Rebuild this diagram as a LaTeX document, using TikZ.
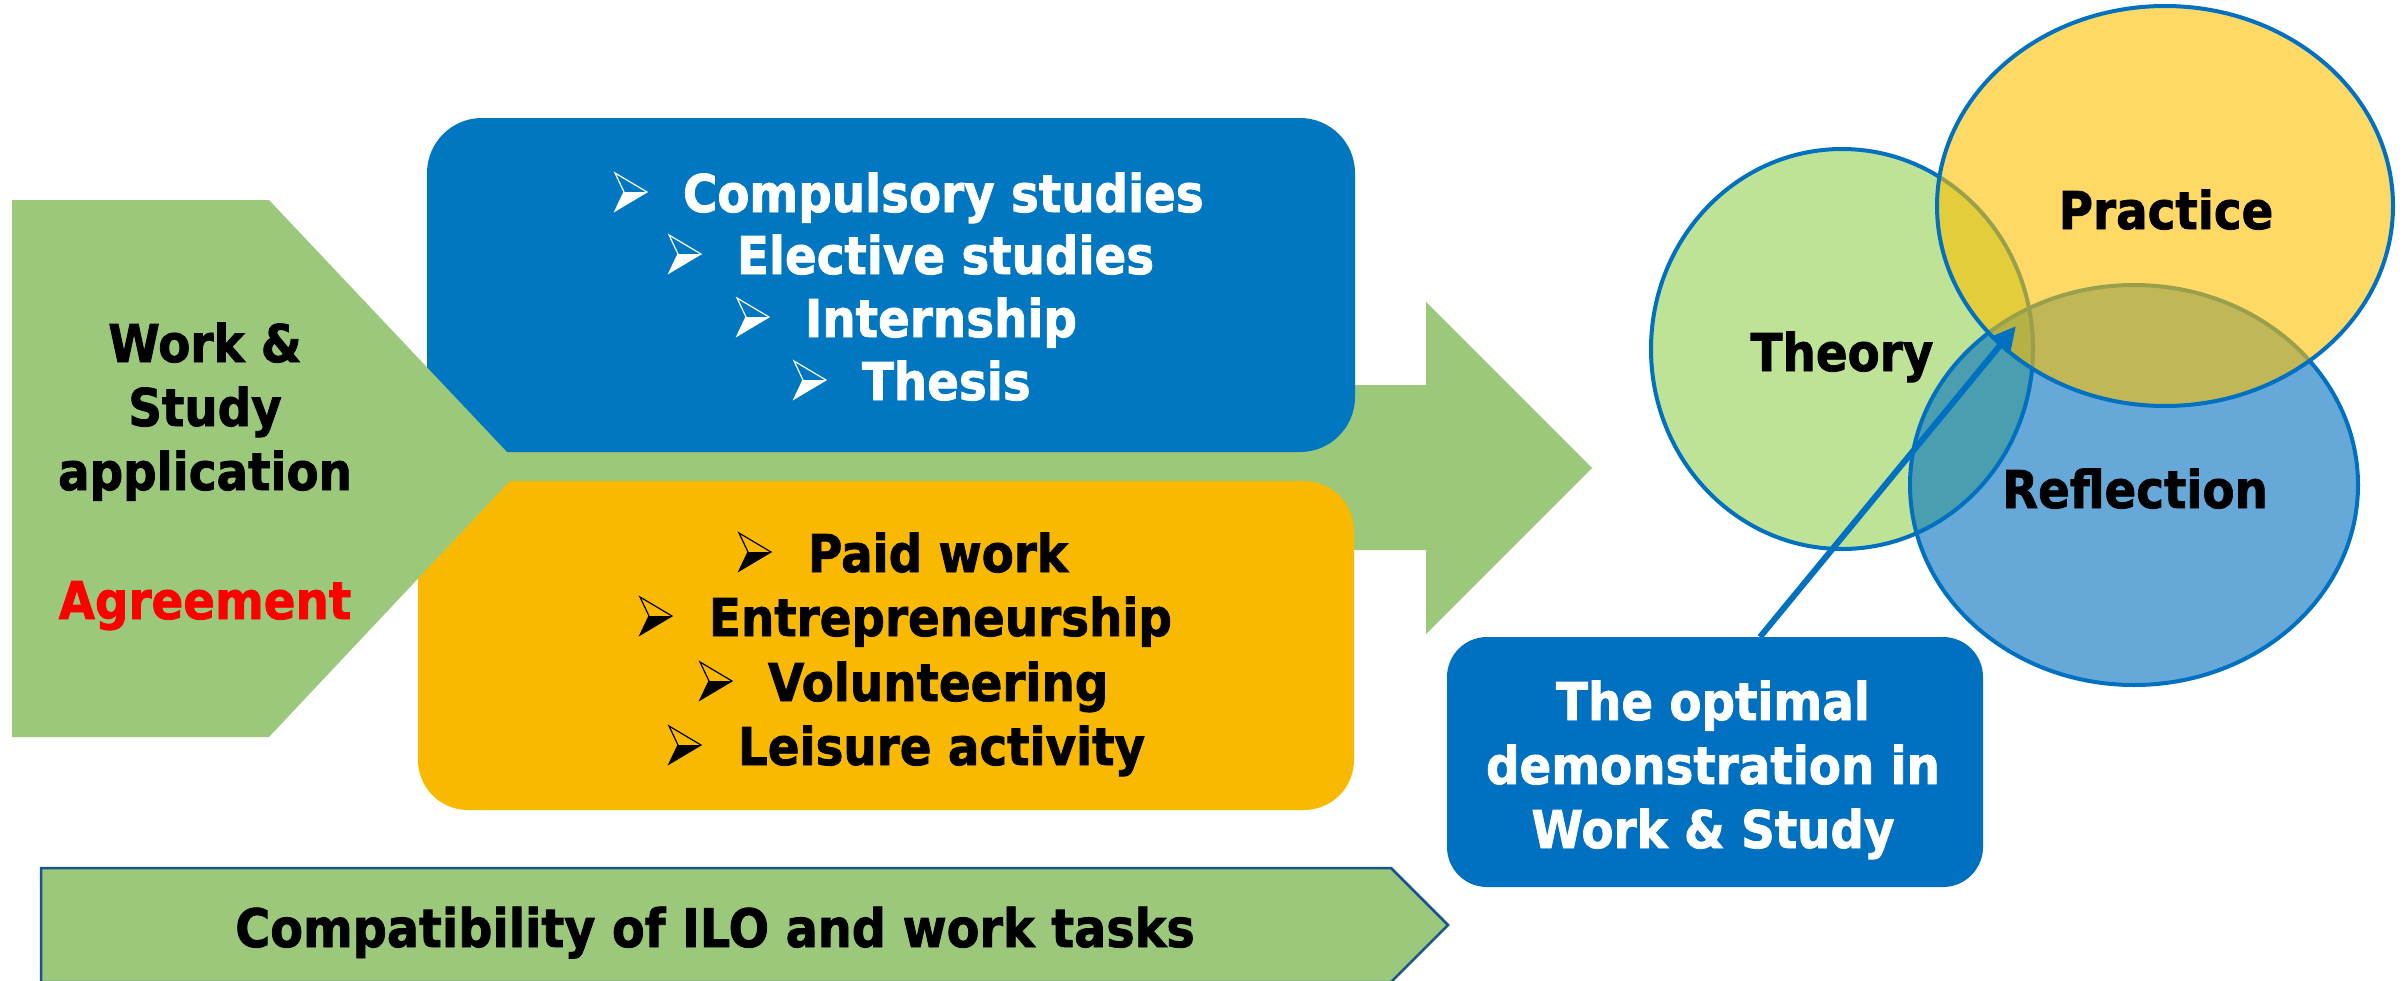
\documentclass[tikz,border=0pt]{standalone}
\usepackage{fontspec}
\setmainfont{DejaVu Sans}[FakeStretch=0.9, BoldFeatures={FakeBold=1.5}]
\usetikzlibrary{arrows.meta,shapes.geometric}
\definecolor{gfill}{RGB}{155,200,123}
\definecolor{bluebox}{RGB}{0,119,192}
\definecolor{yelbox}{RGB}{249,185,0}
\definecolor{cblue}{RGB}{0,112,192}
\definecolor{cgreen}{RGB}{146,208,80}
\definecolor{cyellow}{RGB}{255,192,0}
\definecolor{edgeblue}{RGB}{25,85,140}
\definecolor{agred}{RGB}{255,0,0}
\begin{document}
\begin{tikzpicture}[x=1pt,y=-1pt,
  txt/.style={font=\fontsize{52}{62}\selectfont\bfseries, anchor=base, inner sep=0pt, outer sep=0pt},
  ltxt/.style={txt, anchor=base west},
  panel/.style={inner sep=0pt, outer sep=0pt},
  circ/.style={ellipse, draw=cblue, line width=4pt, fill opacity=0.6, inner sep=0pt, outer sep=0pt},
  linkarrow/.style={cblue, line width=6pt, -{Triangle[length=25pt,width=24pt]}},
  bullet/.pic={
    \fill (9,-20) -- (32,-20) -- (0,-1) -- cycle;
    \draw[line width=1.2pt, line join=miter] (0,-39) -- (32,-20) -- (0,-1) -- (9,-20) -- cycle;
  }
]
\useasboundingbox (0,0) rectangle (2407,980);
\clip (0,0) rectangle (2407,980);

% big green arrow
\fill[gfill] (500,385) -- (1426,385) -- (1426,302) -- (1592,468) -- (1426,634) -- (1426,550) -- (500,550) -- cycle;

% boxes
\node[panel, fill=bluebox, rounded corners=55pt, minimum width=928pt, minimum height=334pt] (studies) at (891,285) {};
\node[panel, fill=yelbox, rounded corners=50pt, minimum width=936pt, minimum height=329pt] (work) at (886,645.5) {};

% left pentagon
\fill[gfill] (12,200) -- (269,200) -- (522,468) -- (269,737) -- (12,737) -- cycle;

% bottom arrow
\draw[edgeblue, line width=2.5pt, fill=gfill] (41,868) -- (1391,868) -- (1448,925) -- (1391,982) -- (41,982) -- cycle;

% left texts
\node[txt] (l1) at (205,362) {Work \&};
\node[txt] (l2) at (205,426) {Study};
\node[txt] (l3) at (205,490) {application};
\node[txt, text=agred] (l4) at (205,619) {Agreement};

% blue list
\pic[white] at (615,212) {bullet};
\pic[white] at (669,274) {bullet};
\pic[white] at (737,337) {bullet};
\pic[white] at (794,400) {bullet};
\node[ltxt, text=white] (b1) at (683,212) {Compulsory studies};
\node[ltxt, text=white] (b2) at (737,274) {Elective studies};
\node[ltxt, text=white] (b3) at (805,337) {Internship};
\node[ltxt, text=white] (b4) at (862,400) {Thesis};

% yellow list
\pic[black] at (739,572) {bullet};
\pic[black] at (640,636) {bullet};
\pic[black] at (700,701) {bullet};
\pic[black] at (669,765) {bullet};
\node[ltxt] (y1) at (808,572) {Paid work};
\node[ltxt] (y2) at (709,636) {Entrepreneurship};
\node[ltxt] (y3) at (768,701) {Volunteering};
\node[ltxt] (y4) at (738,765) {Leisure activity};

% bottom text
\node[txt, font=\fontsize{53}{60}\selectfont\bfseries] (ilo) at (715,947) {Compatibility of ILO and work tasks};

% circles
\node[circ, fill=cgreen, minimum width=382pt, minimum height=400pt] (theory) at (1842,349) {};
\node[circ, fill=cblue, minimum width=448pt, minimum height=400pt] (reflection) at (2134,485) {};
\node[circ, fill=cyellow, minimum width=456pt, minimum height=400pt] (practice) at (2165,206) {};
\node[txt] (tt) at (1842,371) {Theory};
\node[txt] (pt) at (2166,229) {Practice};
\node[txt] (rt) at (2135,508) {Reflection};

% text box
\node[panel, fill=cblue, rounded corners=40pt, minimum width=536pt, minimum height=250pt] (optimal) at (1715,762) {};
\node[txt, text=white] (o1) at (1713,720) {The optimal};
\node[txt, text=white] (o2) at (1713,784) {demonstration in};
\node[txt, text=white] (o3) at (1713,848) {Work \& Study};

% connector
\coordinate (tip) at (2016,326);
\draw[linkarrow] ([xshift=45pt]optimal.north) -- (tip);
\end{tikzpicture}
\end{document}
